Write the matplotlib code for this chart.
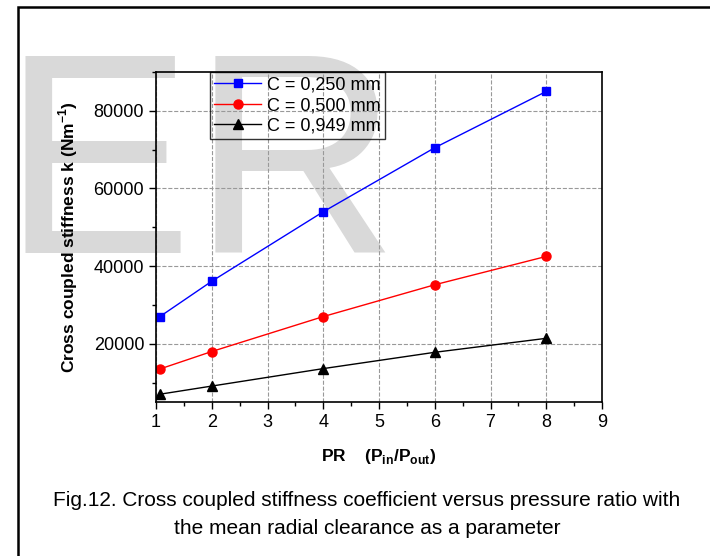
import matplotlib
matplotlib.use('Agg')
import matplotlib.pyplot as plt
from matplotlib.patches import Rectangle
from matplotlib.ticker import MultipleLocator

plt.rcParams['font.family'] = ['Liberation Sans', 'DejaVu Sans']
plt.rcParams['mathtext.fontset'] = 'custom'
plt.rcParams['mathtext.rm'] = 'Liberation Sans'
plt.rcParams['mathtext.bf'] = 'Liberation Sans:bold'

# datos
pr = [1.07, 2, 4, 6, 8]
k_c250 = [27000, 36100, 54000, 70500, 85000]
k_c500 = [13500, 18000, 27000, 35200, 42500]
k_c949 = [7000, 9100, 13600, 17800, 21400]
etiquetas = ['C = 0,250 mm', 'C = 0,500 mm', 'C = 0,949 mm']

fig = plt.figure(figsize=(7.10, 5.56), dpi=100)

# marco exterior
fig.patches.append(Rectangle((0.026, -0.1), 1.2, 1.087, transform=fig.transFigure,
                             fill=False, edgecolor='black', linewidth=1.8))

# marca de agua
fig.text(0.002, 1 - 253 / 556, 'ER', fontsize=206, color='#d9d9d9',
         ha='left', va='baseline', zorder=-1)

ax = fig.add_axes([0.2197, 0.277, 0.848 - 0.2197, 0.8705 - 0.277])
ax.set_facecolor('none')

ax.plot(pr, k_c250, color='#0000ff', marker='s', markersize=6, linewidth=1,
        label=etiquetas[0])
ax.plot(pr, k_c500, color='#ff0000', marker='o', markersize=6.5, linewidth=1,
        label=etiquetas[1])
ax.plot(pr, k_c949, color='black', marker='^', markersize=7, linewidth=1,
        label=etiquetas[2])

ax.set_xlim(1, 9)
ax.set_ylim(5000, 90000)
ax.xaxis.set_major_locator(MultipleLocator(1))
ax.xaxis.set_minor_locator(MultipleLocator(0.5))
ax.yaxis.set_major_locator(MultipleLocator(20000))
ax.yaxis.set_minor_locator(MultipleLocator(10000))
ax.tick_params(which='major', direction='out', length=5, width=1, labelsize=13)
ax.tick_params(which='minor', direction='out', length=3, width=1)
ax.grid(True, which='major', linestyle='--', color='#999999', linewidth=0.8)
ax.set_axisbelow(True)
for s in ax.spines.values():
    s.set_linewidth(1.2)

ax.set_xlabel(r'PR    (P$_\mathbf{in}$/P$_\mathbf{out}$)', fontsize=12.5,
              fontweight='bold', labelpad=12)
ax.set_ylabel(r'Cross coupled stiffness k (Nm$^\mathbf{-1}$)', fontsize=12.5,
              fontweight='bold', labelpad=10)

leg = ax.legend(loc='upper left', bbox_to_anchor=(0.121, 1.0), fontsize=13,
                frameon=True, fancybox=False, facecolor='none', edgecolor='black',
                handlelength=2.6, handletextpad=0.3, borderpad=0.25,
                labelspacing=0.2, borderaxespad=0)
leg.get_frame().set_linewidth(1)

fig.text(0.517, 1 - 500 / 556,
         'Fig.12. Cross coupled stiffness coefficient versus pressure ratio with',
         fontsize=15, ha='center', va='center')
fig.text(0.517, 1 - 528 / 556,
         'the mean radial clearance as a parameter',
         fontsize=15, ha='center', va='center')

fig.savefig('out.png', dpi=100)
